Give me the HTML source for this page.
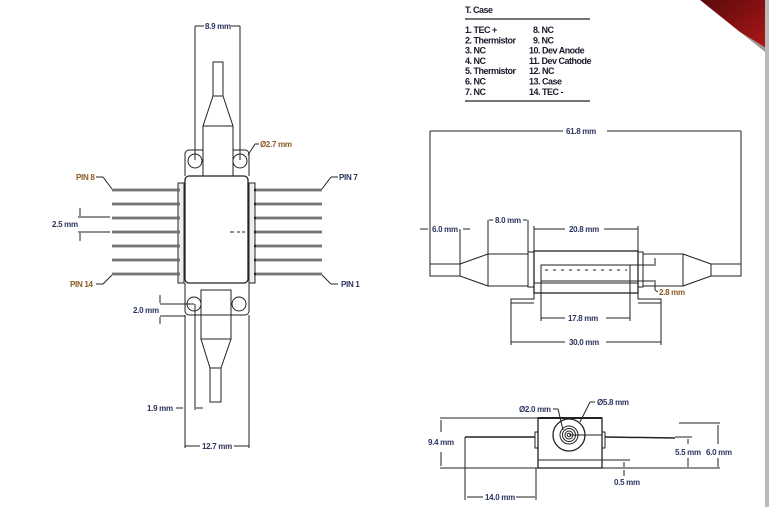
<!DOCTYPE html>
<html><head><meta charset="utf-8"><style>
html,body{margin:0;padding:0;background:#fff;}
svg{display:block;}
text{font-family:"Liberation Sans",sans-serif;font-size:8px;fill:#2c3560;font-weight:bold;letter-spacing:-0.3px;}
.t{fill:#1a1a2a;font-weight:bold;font-size:9px;letter-spacing:-0.5px;}
</style></head><body>
<svg width="769" height="507" viewBox="0 0 769 507" xmlns="http://www.w3.org/2000/svg">
<defs>
<linearGradient id="rg" x1="0" y1="0" x2="1" y2="1"><stop offset="0" stop-color="#5a0a0a"/><stop offset="1" stop-color="#b01818"/></linearGradient>
</defs>
<polygon points="700,0 769,0 769,50 740,32" fill="url(#rg)"/>
<polygon points="740,32 769,50 769,55" fill="#999"/>
<rect x="765" y="0" width="4" height="507" fill="#bbb"/>

<g stroke="#222" stroke-width="1" fill="none">
<line x1="195" y1="26" x2="195" y2="160"/><line x1="240" y1="26" x2="240" y2="160"/>
<line x1="195" y1="26" x2="204" y2="26"/><line x1="231" y1="26" x2="240" y2="26"/>
<rect x="213" y="62" width="10" height="34"/>
<polygon points="213,96 223,96 233,126 203,126"/>
<rect x="203" y="126" width="30" height="50"/>
<path d="M185,176 V154 a4,4 0 0 1 4,-4 H203 M233,150 H245 a4,4 0 0 1 4,4 V176"/>
<circle cx="195" cy="161" r="7"/><circle cx="240" cy="161" r="7"/>
<line x1="248" y1="155" x2="255" y2="144"/><line x1="255" y1="144" x2="259" y2="144"/>
<rect x="185" y="176" width="63" height="107" rx="4" stroke-width="1.3"/>
<rect x="178" y="183" width="6" height="100" fill="#eee"/>
<rect x="249" y="183" width="6" height="100" fill="#eee"/>
<g stroke-width="2.4">
<line x1="112" y1="190" x2="180" y2="190"/><line x1="112" y1="204" x2="180" y2="204"/><line x1="112" y1="218" x2="180" y2="218"/><line x1="112" y1="232" x2="180" y2="232"/><line x1="112" y1="246" x2="180" y2="246"/><line x1="112" y1="260" x2="180" y2="260"/><line x1="112" y1="274" x2="180" y2="274"/>
<line x1="254" y1="190" x2="322" y2="190"/><line x1="254" y1="204" x2="322" y2="204"/><line x1="254" y1="218" x2="322" y2="218"/><line x1="254" y1="232" x2="322" y2="232"/><line x1="254" y1="246" x2="322" y2="246"/><line x1="254" y1="260" x2="322" y2="260"/><line x1="254" y1="274" x2="322" y2="274"/>
</g>
<g stroke="#fff" stroke-width="0.8">
<line x1="112" y1="190" x2="180" y2="190"/><line x1="112" y1="204" x2="180" y2="204"/><line x1="112" y1="218" x2="180" y2="218"/><line x1="112" y1="232" x2="180" y2="232"/><line x1="112" y1="246" x2="180" y2="246"/><line x1="112" y1="260" x2="180" y2="260"/><line x1="112" y1="274" x2="180" y2="274"/>
<line x1="256" y1="190" x2="322" y2="190"/><line x1="256" y1="204" x2="322" y2="204"/><line x1="256" y1="218" x2="322" y2="218"/><line x1="256" y1="232" x2="322" y2="232"/><line x1="256" y1="246" x2="322" y2="246"/><line x1="256" y1="260" x2="322" y2="260"/><line x1="256" y1="274" x2="322" y2="274"/>
</g>
<line x1="96" y1="177" x2="103" y2="177"/><line x1="103" y1="177" x2="112" y2="189"/>
<line x1="322" y1="189" x2="331" y2="177"/><line x1="331" y1="177" x2="338" y2="177"/>
<line x1="96" y1="284" x2="103" y2="284"/><line x1="103" y1="284" x2="112" y2="275"/>
<line x1="322" y1="275" x2="331" y2="284"/><line x1="331" y1="284" x2="338" y2="284"/>
<line x1="78" y1="217" x2="110" y2="217"/><line x1="78" y1="232" x2="110" y2="232"/>
<line x1="80" y1="208" x2="80" y2="216"/><line x1="80" y1="233" x2="80" y2="241"/>
<line x1="230" y1="232" x2="234" y2="232"/><line x1="237" y1="232" x2="240" y2="232"/><line x1="242" y1="232" x2="245" y2="232"/>
<path d="M185,283 V311 a4,4 0 0 0 4,4 H245 a4,4 0 0 0 4,-4 V283"/>
<line x1="201" y1="290" x2="231" y2="290"/>
<circle cx="194" cy="304" r="7"/><circle cx="239" cy="304" r="7"/>
<rect x="201" y="290" width="30" height="49"/>
<polygon points="201,339 231,339 221,368 210,368"/>
<rect x="210" y="368" width="11" height="34"/>
<line x1="160" y1="304" x2="194" y2="304"/><line x1="160" y1="316" x2="185" y2="316"/>
<line x1="160" y1="295" x2="160" y2="303"/><line x1="160" y1="317" x2="160" y2="324"/>
<line x1="185" y1="315" x2="185" y2="448"/><line x1="249" y1="315" x2="249" y2="448"/>
<line x1="195" y1="304" x2="195" y2="410"/>
<line x1="176" y1="408" x2="183" y2="408"/><line x1="196" y1="408" x2="203" y2="408"/>
<line x1="185" y1="446" x2="200" y2="446"/><line x1="234" y1="446" x2="249" y2="446"/>

<line x1="430" y1="131" x2="430" y2="264"/><line x1="741" y1="131" x2="741" y2="264"/>
<line x1="430" y1="131" x2="563" y2="131"/><line x1="607" y1="131" x2="741" y2="131"/>
<rect x="430" y="264" width="30" height="12"/>
<polygon points="460,264 488,254 488,286 460,276"/>
<rect x="488" y="254" width="40" height="32"/>
<rect x="528" y="252" width="6" height="35"/>
<rect x="534" y="251" width="104" height="42" stroke-width="1.3"/>
<line x1="534" y1="283" x2="638" y2="283"/>
<rect x="541" y="265" width="89" height="16"/>
<path d="M545,270 H627" stroke-dasharray="3,5"/>
<rect x="638" y="252" width="5" height="35"/>
<rect x="643" y="254" width="40" height="32"/>
<polygon points="683,254 711,264 711,276 683,286"/>
<rect x="711" y="264" width="30" height="12"/>
<path d="M534,293 V299 H511 V303 H534 M638,293 V299 H661 V303 H638"/>
<line x1="511" y1="303" x2="511" y2="345"/><line x1="661" y1="303" x2="661" y2="345"/>
<line x1="541" y1="281" x2="541" y2="321"/><line x1="630" y1="281" x2="630" y2="321"/>
<line x1="460" y1="229" x2="460" y2="264"/>
<line x1="420" y1="229" x2="428" y2="229"/><line x1="463" y1="229" x2="470" y2="229"/>
<line x1="488" y1="220" x2="488" y2="254"/><line x1="528" y1="220" x2="528" y2="252"/>
<line x1="489" y1="220" x2="493" y2="220"/><line x1="523" y1="220" x2="527" y2="220"/>
<line x1="534" y1="226" x2="534" y2="251"/><line x1="638" y1="226" x2="638" y2="251"/>
<line x1="534" y1="229" x2="565" y2="229"/><line x1="604" y1="229" x2="638" y2="229"/>
<line x1="630" y1="265" x2="656" y2="265"/><line x1="630" y1="281" x2="656" y2="281"/>
<line x1="655" y1="258" x2="655" y2="264"/><line x1="655" y1="282" x2="655" y2="290"/><line x1="655" y1="290" x2="658" y2="292"/>
<line x1="541" y1="318" x2="565" y2="318"/><line x1="606" y1="318" x2="630" y2="318"/>
<line x1="511" y1="342" x2="565" y2="342"/><line x1="606" y1="342" x2="661" y2="342"/>

<rect x="538" y="418" width="64" height="50" stroke-width="1.3"/>
<line x1="538" y1="460" x2="602" y2="460"/>
<line x1="538" y1="418" x2="602" y2="418" stroke-width="2"/>
<rect x="535" y="432" width="3" height="16"/><rect x="602" y="432" width="3" height="16"/>
<circle cx="569" cy="435" r="16" stroke-width="1.3"/>
<circle cx="569" cy="435" r="9"/><circle cx="569" cy="435" r="6.5"/><circle cx="569" cy="435" r="4"/><circle cx="569" cy="435" r="1.8"/>
<line x1="569" y1="435" x2="602" y2="435"/>
<line x1="465" y1="437" x2="535" y2="437" stroke-width="1.5"/>
<line x1="605" y1="437" x2="675" y2="438" stroke-width="1.5"/>
<line x1="440" y1="418" x2="538" y2="418"/>
<line x1="440" y1="468" x2="720" y2="468"/>
<line x1="441" y1="420" x2="441" y2="432"/><line x1="441" y1="452" x2="441" y2="466"/>
<line x1="465" y1="437" x2="465" y2="500"/><line x1="536" y1="468" x2="536" y2="500"/>
<line x1="467" y1="497" x2="483" y2="497"/><line x1="516" y1="497" x2="535" y2="497"/>
<line x1="675" y1="437" x2="692" y2="437"/><line x1="679" y1="423" x2="720" y2="423"/>
<line x1="688" y1="439" x2="688" y2="444"/><line x1="688" y1="458" x2="688" y2="467"/>
<line x1="718" y1="425" x2="718" y2="444"/><line x1="718" y1="458" x2="718" y2="467"/>
<line x1="624" y1="462" x2="624" y2="467"/><line x1="624" y1="470" x2="624" y2="476"/>
<line x1="602" y1="460" x2="630" y2="460"/>
<line x1="553" y1="409" x2="558" y2="409"/><line x1="558" y1="409" x2="563" y2="430"/>
<line x1="590" y1="402" x2="595" y2="402"/><line x1="590" y1="402" x2="580" y2="422"/>

<line x1="465" y1="19" x2="590" y2="19" stroke-width="1.3"/>
<line x1="465" y1="101" x2="590" y2="101" stroke-width="1.3"/>
</g>

<text x="205" y="29">8.9 mm</text>
<text x="260" y="147" style="fill:#8a5a20">Ø2.7 mm</text>
<text x="76" y="180" style="fill:#8a5a20">PIN 8</text>
<text x="339" y="180">PIN 7</text>
<text x="70" y="287" style="fill:#8a5a20">PIN 14</text>
<text x="341" y="287">PIN 1</text>
<text x="52" y="227">2.5 mm</text>
<text x="133" y="313">2.0 mm</text>
<text x="147" y="411">1.9 mm</text>
<text x="202" y="449">12.7 mm</text>

<text x="566" y="134">61.8 mm</text>
<text x="432" y="232">6.0 mm</text>
<text x="495" y="223">8.0 mm</text>
<text x="569" y="232">20.8 mm</text>
<text x="659" y="295" style="fill:#8a5a20">2.8 mm</text>
<text x="568" y="321">17.8 mm</text>
<text x="569" y="345">30.0 mm</text>

<text x="519" y="412">Ø2.0 mm</text>
<text x="597" y="405">Ø5.8 mm</text>
<text x="428" y="445">9.4 mm</text>
<text x="675" y="455">5.5 mm</text>
<text x="706" y="455">6.0 mm</text>
<text x="614" y="485">0.5 mm</text>
<text x="485" y="500">14.0 mm</text>

<text class="t" x="465" y="13">T. Case</text>
<text class="t" x="465" y="33">1. TEC +</text>
<text class="t" x="465" y="43.3">2. Thermistor</text>
<text class="t" x="465" y="53.6">3. NC</text>
<text class="t" x="465" y="63.9">4. NC</text>
<text class="t" x="465" y="74.2">5. Thermistor</text>
<text class="t" x="465" y="84.5">6. NC</text>
<text class="t" x="465" y="94.8">7. NC</text>
<text class="t" x="533" y="33">8. NC</text>
<text class="t" x="533" y="43.3">9. NC</text>
<text class="t" x="529" y="53.6">10. Dev Anode</text>
<text class="t" x="529" y="63.9">11. Dev Cathode</text>
<text class="t" x="529" y="74.2">12. NC</text>
<text class="t" x="529" y="84.5">13. Case</text>
<text class="t" x="529" y="94.8">14. TEC -</text>
</svg>
</body></html>
